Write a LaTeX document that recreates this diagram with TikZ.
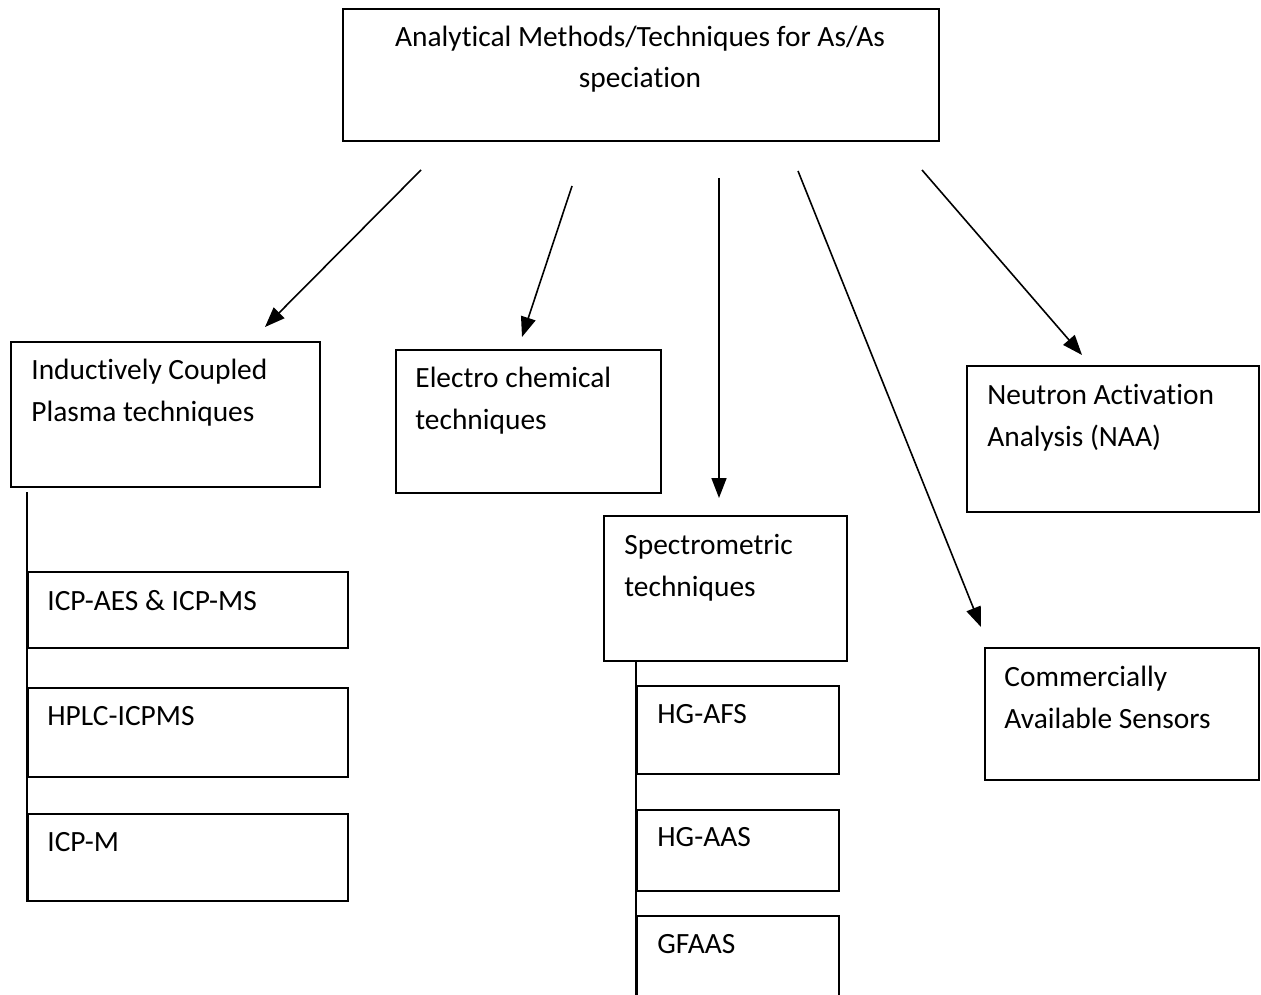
\documentclass[tikz,border=0pt]{standalone}
\usepackage{fontspec}
\setmainfont{Carlito}[Ligatures=NoCommon]
\usetikzlibrary{arrows.meta,calc}
\tikzset{
  box/.style={draw=black, line width=1pt, rectangle, inner sep=0pt, anchor=north west},
  lbl/.style={anchor=north west, inner sep=0pt, align=left, font=\fontsize{14.7}{20.75}\selectfont},
  arr/.style={draw=black, line width=0.8pt, -{Triangle[length=10pt,width=7.5pt]}},
  link/.style={draw=black, line width=1pt}
}
\begin{document}
\begin{tikzpicture}[x=0.5pt,y=-0.5pt]
\useasboundingbox (0,0) rectangle (1261,994);
\clip (0,0) rectangle (1261,994);
% main box
\node[box, minimum width=298pt, minimum height=66pt] (top) at (342,8) {};
\node[anchor=center, inner sep=0pt, align=center, font=\fontsize{14.7}{20.75}\selectfont] (topT) at (640,59) {Analytical Methods/Techniques for As/As\\speciation};
% level 1 boxes
\node[box, minimum width=154.5pt, minimum height=72.5pt] (icp) at (10,341) {};
\node[lbl] (icpT) at (31,359) {Inductively Coupled\\Plasma techniques};
\node[box, minimum width=132.5pt, minimum height=71.5pt] (ele) at (395,349) {};
\node[lbl] (eleT) at (415,367) {Electro chemical\\techniques};
\node[box, minimum width=121.5pt, minimum height=72.5pt] (spe) at (603,515) {};
\node[lbl] (speT) at (624,534) {Spectrometric\\techniques};
\node[box, minimum width=146pt, minimum height=73pt] (naa) at (966,365) {};
\node[lbl] (naaT) at (987,384) {Neutron Activation\\Analysis (NAA)};
\node[box, minimum width=137pt, minimum height=66pt] (com) at (984,647) {};
\node[lbl] (comT) at (1004,666) {Commercially\\Available Sensors};
% ICP sub boxes
\node[box, minimum width=160pt, minimum height=38pt] (aes) at (27,571) {};
\node[lbl] (aesT) at (47,590) {ICP-AES \& ICP-MS};
\node[box, minimum width=160pt, minimum height=44.5pt] (hplc) at (27,687) {};
\node[lbl] (hplcT) at (47,706) {HPLC-ICPMS};
\node[box, minimum width=160pt, minimum height=43.5pt] (icpm) at (27,813) {};
\node[lbl] (icpmT) at (47,832) {ICP-M};
% spectrometric sub boxes
\node[box, minimum width=101pt, minimum height=44pt] (afs) at (636,685) {};
\node[lbl] (afsT) at (657,704) {HG-AFS};
\node[box, minimum width=101pt, minimum height=40.5pt] (aas) at (636,809) {};
\node[lbl] (aasT) at (657,827) {HG-AAS};
\node[box, minimum width=101pt, minimum height=47.5pt] (gf) at (636,915) {};
\node[lbl] (gfT) at (657,934) {GFAAS};
% vertical links
\draw[link] ([yshift=-2pt]aes.west |- icp.south) -- (icpm.south west);
\draw[link] (afs.west |- spe.south) -- (gf.south west);
% arrows
\coordinate (s1) at (421,170); \coordinate (t1) at (265,327);
\coordinate (s2) at (572,186); \coordinate (t2) at (522,337);
\coordinate (s3) at (719,178); \coordinate (t3) at (719,498);
\coordinate (s4) at (798,171); \coordinate (t4) at (981,627);
\coordinate (s5) at (922,170); \coordinate (t5) at (1082,355);
\draw[arr] (s1) -- (t1);
\draw[arr] (s2) -- (t2);
\draw[arr] (s3) -- (t3);
\draw[arr] (s4) -- (t4);
\draw[arr] (s5) -- (t5);
\end{tikzpicture}
\end{document}
